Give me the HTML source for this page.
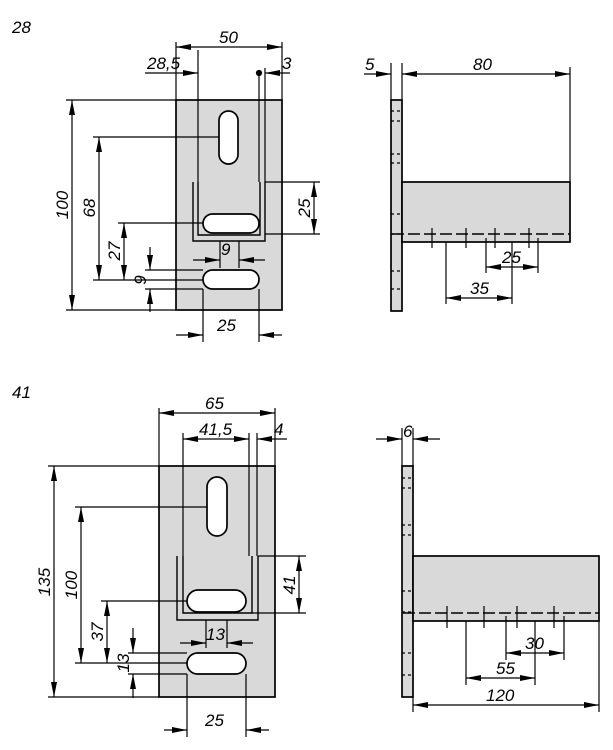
<!DOCTYPE html>
<html><head><meta charset="utf-8"><style>
html,body{margin:0;padding:0;background:#fff;}
svg{display:block;}
text{font-family:"Liberation Sans",sans-serif;font-style:italic;font-size:17px;fill:#000;}
</style></head><body>
<svg width="613" height="750" viewBox="0 0 613 750" xmlns="http://www.w3.org/2000/svg">
<defs>
<marker id="a" viewBox="0 0 15 7" refX="15" refY="3.5" markerWidth="15" markerHeight="7" markerUnits="userSpaceOnUse" orient="auto-start-reverse"><path d="M0,0.5 L15,3.5 L0,6.5 Z" fill="#000"/></marker>
</defs>
<g stroke="#000" fill="none" stroke-width="1.2">
<!-- ===== 28 front ===== -->
<rect x="176" y="100" width="106" height="210" fill="#d9d9d9" stroke-width="1.7"/>
<path d="M193,182 V241 H265 V182 M198,182 V235 H260 V182" stroke-width="1.4"/>
<rect x="219" y="111" width="19" height="53" rx="9.5" fill="#fff" stroke-width="1.7"/>
<rect x="203" y="214" width="56" height="19" rx="9.5" fill="#fff" stroke-width="1.7"/>
<rect x="203" y="270" width="56" height="19" rx="9.5" fill="#fff" stroke-width="1.7"/>
<path d="M176,42 V100 M282,42 V100 M198,50 V182 M259,73 V182 M265,68 V182"/>
<circle cx="259" cy="73" r="2.5" fill="#000"/>
<path d="M176,47 H282" marker-start="url(#a)" marker-end="url(#a)"/>
<path d="M145,73 H198" marker-end="url(#a)"/>
<path d="M290,73 H265" marker-end="url(#a)"/>
<path d="M66,100 H176 M66,310 H176"/>
<path d="M72,100 V310" marker-start="url(#a)" marker-end="url(#a)"/>
<path d="M93,137 H219 M93,280 H150"/>
<path d="M99,137 V280" marker-start="url(#a)" marker-end="url(#a)"/>
<path d="M118,223 H203"/>
<path d="M124,223 V280" marker-start="url(#a)" marker-end="url(#a)"/>
<path d="M145,270 H203 M150,280 H203 M145,289 H203"/>
<path d="M150,247 V270" marker-end="url(#a)"/>
<path d="M150,312 V289" marker-end="url(#a)"/>
<path d="M265,182 H320 M265,234 H320"/>
<path d="M314,182 V234" marker-start="url(#a)" marker-end="url(#a)"/>
<path d="M220,241 V268 M239,241 V268"/>
<path d="M193,260 H220" marker-end="url(#a)"/>
<path d="M265,260 H239" marker-end="url(#a)"/>
<path d="M203,289 V342 M259,289 V342"/>
<path d="M176,335 H203" marker-end="url(#a)"/>
<path d="M282,335 H259" marker-end="url(#a)"/>
<!-- ===== 28 side ===== -->
<rect x="391" y="100" width="11" height="211" fill="#d9d9d9" stroke-width="1.7"/>
<rect x="402" y="182" width="168" height="60" fill="#d9d9d9" stroke-width="1.7"/>
<path d="M391,111 H402 M391,121 H402 M391,154 H402 M391,163 H402 M391,214 H402 M391,234 H402 M391,271 H402 M391,289 H402" stroke-dasharray="3,3"/>
<path d="M392,234 H570" stroke-dasharray="12,4" stroke-width="1.4"/>
<path d="M432,228 V248 M466,228 V248 M495,228 V248 M529,228 V248"/>
<path d="M391,63 V100 M402,63 V100 M570,67 V182"/>
<path d="M364,74 H391" marker-end="url(#a)"/>
<path d="M402,74 H570" marker-start="url(#a)" marker-end="url(#a)"/>
<path d="M446,242 V304 M512,242 V304 M486,238 V273 M538,238 V273"/>
<path d="M486,267 H538" marker-start="url(#a)" marker-end="url(#a)"/>
<path d="M446,298 H512" marker-start="url(#a)" marker-end="url(#a)"/>
<!-- ===== 41 front ===== -->
<rect x="159" y="466" width="116" height="231" fill="#d9d9d9" stroke-width="1.7"/>
<path d="M177,556 V620 H258 V556 M183,556 V613 H252 V556" stroke-width="1.4"/>
<rect x="207" y="477" width="20" height="59" rx="10" fill="#fff" stroke-width="1.7"/>
<rect x="187" y="590" width="59" height="22" rx="11" fill="#fff" stroke-width="1.7"/>
<rect x="187" y="653" width="59" height="21" rx="10.5" fill="#fff" stroke-width="1.7"/>
<path d="M159,408 V466 M275,408 V466 M183,433 V556 M249,433 V556 M257,433 V556"/>
<path d="M159,413 H275" marker-start="url(#a)" marker-end="url(#a)"/>
<path d="M183,439 H249" marker-start="url(#a)" marker-end="url(#a)"/>
<path d="M287,439 H257" marker-end="url(#a)"/>
<path d="M48,466 H159 M48,697 H159"/>
<path d="M54,466 V697" marker-start="url(#a)" marker-end="url(#a)"/>
<path d="M75,507 H207 M75,663 H187"/>
<path d="M81,507 V663" marker-start="url(#a)" marker-end="url(#a)"/>
<path d="M101,601 H187"/>
<path d="M107,601 V663" marker-start="url(#a)" marker-end="url(#a)"/>
<path d="M128,653 H187 M128,674 H187"/>
<path d="M133,628 V653" marker-end="url(#a)"/>
<path d="M133,698 V674" marker-end="url(#a)"/>
<path d="M258,556 H306 M252,613 H306"/>
<path d="M299,556 V613" marker-start="url(#a)" marker-end="url(#a)"/>
<path d="M206,620 V648 M227,620 V648"/>
<path d="M180,643 H206" marker-end="url(#a)"/>
<path d="M253,643 H227" marker-end="url(#a)"/>
<path d="M187,674 V737 M246,674 V737"/>
<path d="M164,730 H187" marker-end="url(#a)"/>
<path d="M269,730 H246" marker-end="url(#a)"/>
<!-- ===== 41 side ===== -->
<rect x="402" y="466" width="11" height="231" fill="#d9d9d9" stroke-width="1.7"/>
<rect x="413" y="556" width="186" height="65" fill="#d9d9d9" stroke-width="1.7"/>
<path d="M402,478 H413 M402,488 H413 M402,525 H413 M402,535 H413 M402,591 H413 M402,612 H413 M402,653 H413 M402,675 H413" stroke-dasharray="3,3"/>
<path d="M403,613 H599" stroke-dasharray="12,4" stroke-width="1.4"/>
<path d="M447,606 V628 M484,606 V628 M517,606 V628 M554,606 V628"/>
<path d="M402,428 V466 M413,428 V466"/>
<path d="M376,439 H402" marker-end="url(#a)"/>
<path d="M440,439 H413" marker-end="url(#a)"/>
<path d="M506,616 V660 M564,616 V660 M466,621 V685 M535,621 V685 M413,697 V712 M599,621 V712"/>
<path d="M506,653 H564" marker-start="url(#a)" marker-end="url(#a)"/>
<path d="M466,678 H535" marker-start="url(#a)" marker-end="url(#a)"/>
<path d="M413,705 H599" marker-start="url(#a)" marker-end="url(#a)"/>
</g>
<g>
<text x="12" y="33">28</text>
<text x="12" y="398">41</text>
<text x="219" y="43">50</text>
<text x="147" y="69">28,5</text>
<text x="282" y="69">3</text>
<text x="221" y="255">9</text>
<text x="217" y="331">25</text>
<text transform="translate(68,205) rotate(-90)" text-anchor="middle">100</text>
<text transform="translate(95,208) rotate(-90)" text-anchor="middle">68</text>
<text transform="translate(120,251) rotate(-90)" text-anchor="middle">27</text>
<text transform="translate(146,280) rotate(-90)" text-anchor="middle">9</text>
<text transform="translate(310,208) rotate(-90)" text-anchor="middle">25</text>
<text x="365" y="70">5</text>
<text x="473" y="70">80</text>
<text x="502" y="263">25</text>
<text x="470" y="294">35</text>
<text x="205" y="409">65</text>
<text x="199" y="435">41,5</text>
<text x="274" y="435">4</text>
<text x="206" y="640">13</text>
<text x="205" y="726">25</text>
<text transform="translate(50,582) rotate(-90)" text-anchor="middle">135</text>
<text transform="translate(77,585) rotate(-90)" text-anchor="middle">100</text>
<text transform="translate(103,632) rotate(-90)" text-anchor="middle">37</text>
<text transform="translate(129,663) rotate(-90)" text-anchor="middle">13</text>
<text transform="translate(295,585) rotate(-90)" text-anchor="middle">41</text>
<text x="403" y="437">6</text>
<text x="525" y="649">30</text>
<text x="496" y="674">55</text>
<text x="486" y="701">120</text>
</g>
</svg>
</body></html>
